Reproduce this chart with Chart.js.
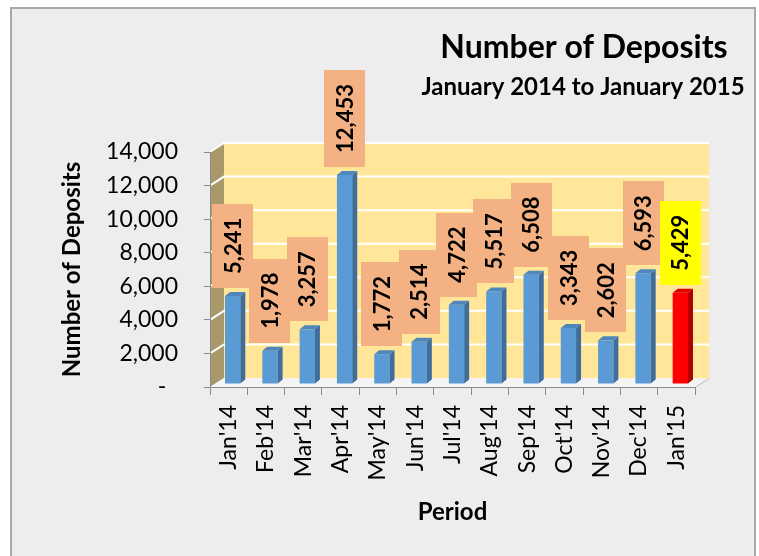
<!DOCTYPE html>
<html>
<head>
<meta charset="utf-8">
<script src="https://cdn.jsdelivr.net/npm/chart.js@4.4.0/dist/chart.umd.min.js"></script>
<style>
html,body{margin:0;padding:0;background:#ffffff;}
#wrap{width:759px;height:556px;position:relative;}
</style>
</head>
<body>
<div id="wrap"><canvas id="c" width="759" height="556"></canvas></div>
<script>
// ---- data ----
const categories = ["Jan'14","Feb'14","Mar'14","Apr'14","May'14","Jun'14","Jul'14","Aug'14","Sep'14","Oct'14","Nov'14","Dec'14","Jan'15"];
const deposits = [5241,1978,3257,12453,1772,2514,4722,5517,6508,3343,2602,6593,5429];
const yTickValues = [0,2000,4000,6000,8000,10000,12000,14000];
const chartTitle = "Number of Deposits";
const chartSubtitle = "January 2014 to January 2015";
const yAxisTitle = "Number of Deposits";
const xAxisTitle = "Period";

// ---- style ----
const FONT = "Lato, 'Open Sans', sans-serif";
const DX = 14, DY = 9;           // 3D depth of walls
const BDX = 5, BDY = 4;          // 3D depth of bars
const BAR_SHIFT_X = 4, BAR_SHIFT_Y = -3;
const lastIdx = deposits.length - 1;
const isHighlight = i => i === lastIdx;

function fmt(v){ return v.toLocaleString('en-US'); }

const bgPlugin = {
  id: 'bg3d',
  beforeDraw(chart){
    const ctx = chart.ctx;
    const ca = chart.chartArea;
    const ys = chart.scales.y;
    ctx.save();
    ctx.fillStyle = '#ffffff';
    ctx.fillRect(0,0,chart.width,chart.height);
    ctx.fillStyle = '#EDEDED';
    ctx.fillRect(10,7,746,chart.height);
    ctx.strokeStyle = '#A9A9A9';
    ctx.lineWidth = 2;
    ctx.beginPath();
    ctx.moveTo(11,chart.height); ctx.lineTo(11,8); ctx.lineTo(755,8); ctx.lineTo(755,chart.height);
    ctx.stroke();

    const L = ca.left, R = ca.right;
    const T = ys.getPixelForValue(yTickValues[yTickValues.length-1]);
    const B = ys.getPixelForValue(0);
    // back wall
    ctx.fillStyle = '#FFE699';
    ctx.fillRect(L+DX, T-DY, R-L, B-T);
    // left wall
    ctx.fillStyle = '#A8986A';
    ctx.beginPath();
    ctx.moveTo(L,T); ctx.lineTo(L+DX,T-DY); ctx.lineTo(L+DX,B-DY); ctx.lineTo(L,B); ctx.closePath();
    ctx.fill();
    // floor
    ctx.fillStyle = '#F4F4F4';
    ctx.beginPath();
    ctx.moveTo(L,B); ctx.lineTo(L+DX,B-DY); ctx.lineTo(R+DX,B-DY); ctx.lineTo(R,B); ctx.closePath();
    ctx.fill();
    ctx.strokeStyle = '#BDBDBD';
    ctx.lineWidth = 1;
    ctx.beginPath();
    ctx.moveTo(L,B+0.5); ctx.lineTo(R,B+0.5); ctx.lineTo(R+DX,B-DY+0.5);
    ctx.stroke();
    // gridlines
    ctx.strokeStyle = '#ffffff';
    ctx.lineWidth = 2;
    yTickValues.forEach(v => {
      if (v === 0) return;
      const y = ys.getPixelForValue(v);
      ctx.beginPath();
      ctx.moveTo(L,y); ctx.lineTo(L+DX,y-DY); ctx.lineTo(R+DX,y-DY);
      ctx.stroke();
    });
    ctx.restore();
  },
  beforeDatasetsDraw(chart){
    chart.ctx.save();
    chart.ctx.translate(BAR_SHIFT_X, BAR_SHIFT_Y);
  },
  afterDatasetsDraw(chart){
    const ctx = chart.ctx;
    const meta = chart.getDatasetMeta(0);
    meta.data.forEach((el,i) => {
      const p = el.getProps(['x','y','base','width'], true);
      const l = p.x - p.width/2, r = p.x + p.width/2;
      // side
      ctx.fillStyle = isHighlight(i) ? '#B00000' : '#3F6E9C';
      ctx.beginPath();
      ctx.moveTo(r,p.y); ctx.lineTo(r+BDX,p.y-BDY); ctx.lineTo(r+BDX,p.base-BDY); ctx.lineTo(r,p.base); ctx.closePath();
      ctx.fill();
      // top
      ctx.fillStyle = isHighlight(i) ? '#E00000' : '#4F86BB';
      ctx.beginPath();
      ctx.moveTo(l,p.y); ctx.lineTo(l+BDX,p.y-BDY); ctx.lineTo(r+BDX,p.y-BDY); ctx.lineTo(r,p.y); ctx.closePath();
      ctx.fill();
    });
    ctx.restore();

    // data label boxes
    ctx.save();
    ctx.font = 'bold 22px ' + FONT;
    meta.data.forEach((el,i) => {
      const p = el.getProps(['x','y'], true);
      const txt = fmt(deposits[i]);
      const tw = ctx.measureText(txt).width;
      const bw = 41, bh = tw + 28;
      const cx = p.x + BAR_SHIFT_X;
      const bottom = p.y - 11;
      ctx.fillStyle = isHighlight(i) ? '#FFFF00' : '#F4B183';
      ctx.fillRect(Math.round(cx - bw/2), Math.round(bottom - bh), bw, Math.round(bh));
      ctx.save();
      ctx.translate(cx + 1, bottom - bh/2);
      ctx.rotate(-Math.PI/2);
      ctx.fillStyle = '#000000';
      ctx.textAlign = 'center';
      ctx.textBaseline = 'middle';
      ctx.fillText(txt, 0, 0);
      ctx.restore();
    });
    ctx.restore();
  },
  afterDraw(chart){
    const ctx = chart.ctx;
    ctx.save();
    ctx.fillStyle = '#000000';
    ctx.textAlign = 'center';
    ctx.textBaseline = 'middle';
    ctx.font = 'bold 32px ' + FONT;
    ctx.fillText(chartTitle, 584, 48);
    ctx.font = 'bold 24px ' + FONT;
    ctx.fillText(chartSubtitle, 583, 87);
    ctx.restore();
  }
};

new Chart(document.getElementById('c'), {
  type: 'bar',
  data: {
    labels: categories,
    datasets: [{
      label: yAxisTitle,
      data: deposits,
      backgroundColor: ctx => isHighlight(ctx.dataIndex) ? '#FF0000' : '#5B9BD5',
      borderWidth: 0,
      barPercentage: 0.41,
      categoryPercentage: 1.0
    }]
  },
  options: {
    responsive: false,
    devicePixelRatio: 1,
    animation: false,
    layout: { padding: { left: 54, right: 64, top: 152, bottom: 25 } },
    plugins: {
      legend: { display: false },
      tooltip: { enabled: false },
      title: { display: false }
    },
    scales: {
      x: {
        afterFit(scale){ scale.height = 144; },
        grid: { drawOnChartArea: false, drawTicks: true, tickLength: 8, color: '#8C8C8C', offset: true },
        border: { display: true, color: '#8C8C8C' },
        ticks: {
          autoSkip: false, maxRotation: 90, minRotation: 90, padding: 10,
          color: '#000000', font: { family: FONT, size: 23 }
        },
        title: { display: true, text: xAxisTitle, color: '#000000', font: { family: FONT, size: 24, weight: 'bold' }, padding: { top: 4, bottom: 4 } }
      },
      y: {
        min: yTickValues[0], max: yTickValues[yTickValues.length-1],
        afterFit(scale){ scale.width = 156; },
        afterBuildTicks(scale){ scale.ticks = yTickValues.map(v => ({ value: v })); },
        grid: { drawOnChartArea: false, drawTicks: true, tickLength: 6, color: '#8C8C8C' },
        border: { display: true, color: '#8C8C8C' },
        ticks: {
          padding: 26, color: '#000000', font: { family: FONT, size: 23 },
          callback: v => v === 0 ? '-  ' : fmt(v)
        },
        title: { display: true, text: yAxisTitle, color: '#000000', font: { family: FONT, size: 24, weight: 'bold' }, padding: { top: 4, bottom: 4 } }
      }
    }
  },
  plugins: [bgPlugin]
});
</script>
</body>
</html>
